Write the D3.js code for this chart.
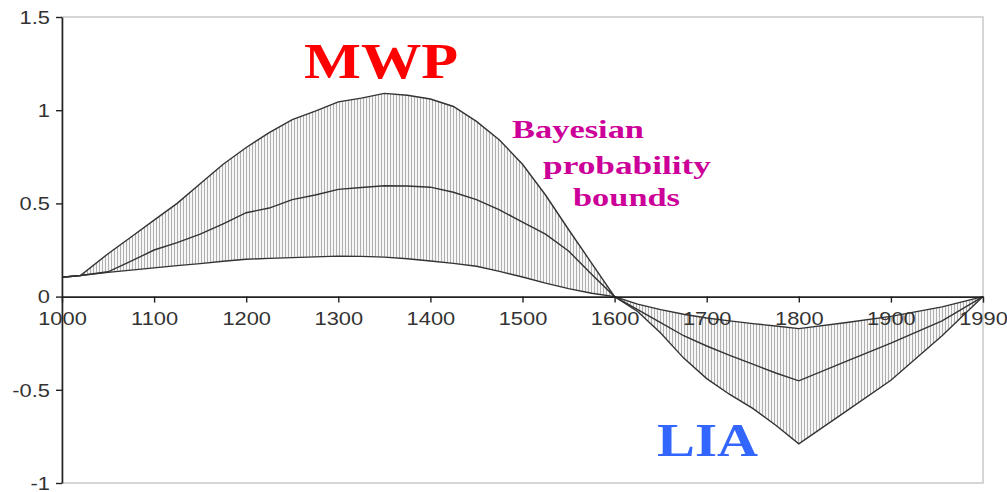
<!DOCTYPE html>
<html>
<head>
<meta charset="utf-8">
<script src="https://cdn.jsdelivr.net/npm/d3@7"></script>
<style>
  html, body { margin: 0; padding: 0; background: #fff; }
  svg { display: block; }
</style>
</head>
<body>
<svg id="chart" width="1007" height="492"></svg>
<script>
// ---- data ----
const years = [1000, 1020, 1050, 1075, 1100, 1125, 1150, 1175, 1200, 1225, 1250, 1275, 1300,
               1325, 1350, 1375, 1400, 1425, 1450, 1475, 1500, 1525, 1550, 1575, 1600,
               1625, 1650, 1675, 1700, 1725, 1750, 1775, 1800, 1850, 1900, 1950, 1990];
const upperBound = [0.104, 0.113, 0.23, 0.32, 0.41, 0.50, 0.605, 0.71, 0.80, 0.88, 0.95, 0.995, 1.045,
                    1.065, 1.09, 1.08, 1.06, 1.02, 0.94, 0.84, 0.71, 0.545, 0.36, 0.18, 0,
                    -0.04, -0.07, -0.095, -0.115, -0.13, -0.145, -0.158, -0.172, -0.14, -0.106, -0.055, 0];
const median = [0.104, 0.113, 0.133, 0.19, 0.25, 0.29, 0.335, 0.39, 0.45, 0.475, 0.52, 0.545, 0.575,
                0.585, 0.595, 0.593, 0.587, 0.56, 0.52, 0.465, 0.40, 0.335, 0.245, 0.12, 0,
                -0.07, -0.14, -0.21, -0.265, -0.315, -0.362, -0.41, -0.452, -0.35, -0.25, -0.13, 0];
const lowerBound = [0.104, 0.113, 0.13, 0.142, 0.154, 0.166, 0.177, 0.19, 0.2, 0.205, 0.209, 0.213, 0.217,
                    0.216, 0.212, 0.203, 0.191, 0.178, 0.163, 0.135, 0.105, 0.072, 0.043, 0.018, 0,
                    -0.08, -0.195, -0.33, -0.44, -0.525, -0.60, -0.69, -0.79, -0.62, -0.449, -0.21, 0];
const xTicks = [1000, 1100, 1200, 1300, 1400, 1500, 1600, 1700, 1800, 1900, 1990];
const yTicks = [-1, -0.5, 0, 0.5, 1, 1.5];
const annotations = [
  { text: "MWP", color: "#ff0000" },
  { text: "Bayesian", color: "#cc0099" },
  { text: "probability", color: "#cc0099" },
  { text: "bounds", color: "#cc0099" },
  { text: "LIA", color: "#3366ff" }
];

// ---- layout ----
const svg = d3.select("#chart");
const mLeft = 62, mRight = 983, mTop = 17, mBottom = 483;

// categorical-style axis: 1900 -> 1990 occupies one full step
const x = d3.scaleLinear().domain([1000, 1900, 1990]).range([mLeft, mLeft + 9 * (mRight - mLeft) / 10, mRight]);
const y = d3.scaleLinear().domain([-1, 1.5]).range([mBottom, mTop]);

const rows = years.map((yr, i) => ({ yr, hi: upperBound[i], mid: median[i], lo: lowerBound[i] }));

// hatch pattern (vertical high-low lines)
const defs = svg.append("defs");
const pat = defs.append("pattern").attr("id", "hatch").attr("patternUnits", "userSpaceOnUse")
  .attr("width", 3).attr("height", 10);
pat.append("rect").attr("width", 3).attr("height", 10).attr("fill", "#f6f6f6");
pat.append("line").attr("x1", 0.5).attr("x2", 0.5).attr("y1", 0).attr("y2", 10)
  .attr("stroke", "#b0b0b0").attr("stroke-width", 1);

// plot frame (light)
svg.append("rect").attr("x", mLeft).attr("y", mTop).attr("width", mRight - mLeft).attr("height", mBottom - mTop)
  .attr("fill", "none").attr("stroke", "#c8c8c8").attr("stroke-width", 1.5);

// band
svg.append("path").datum(rows)
  .attr("d", d3.area().x(d => x(d.yr)).y0(d => y(d.lo)).y1(d => y(d.hi)))
  .attr("fill", "url(#hatch)");

// lines
const line = key => d3.line().x(d => x(d.yr)).y(d => y(d[key]));
["hi", "mid", "lo"].forEach(k => {
  svg.append("path").datum(rows).attr("d", line(k))
    .attr("fill", "none").attr("stroke", "#333").attr("stroke-width", 1.4);
});

const fmt = d => String(d);

// y axis
const yAxis = svg.append("g").attr("transform", `translate(${mLeft},0)`)
  .call(d3.axisLeft(y).tickValues(yTicks).tickFormat(fmt).tickSize(6).tickSizeOuter(0));
yAxis.select(".domain").attr("stroke", "#222").attr("stroke-width", 1.6);
yAxis.selectAll(".tick line").attr("stroke", "#222").attr("stroke-width", 1.4);
yAxis.selectAll(".tick text")
  .attr("x", 0).attr("dy", "0.36em")
  .attr("transform", "translate(-12,0) scale(1.25,1)")
  .attr("font-family", "Liberation Sans, Arial, sans-serif").attr("font-size", 17.5).attr("fill", "#333");

// x axis at zero
const xAxis = svg.append("g").attr("transform", `translate(0,${y(0)})`)
  .call(d3.axisBottom(x).tickValues(xTicks).tickFormat(fmt).tickSize(6).tickSizeOuter(0));
xAxis.select(".domain").attr("stroke", "#222").attr("stroke-width", 1.6);
xAxis.selectAll(".tick line").attr("stroke", "#222").attr("stroke-width", 1.4);
xAxis.selectAll(".tick text")
  .attr("y", 28).attr("dy", 0)
  .attr("transform", "scale(1.25,1)")
  .attr("font-family", "Liberation Sans, Arial, sans-serif").attr("font-size", 17.5).attr("fill", "#333");

// annotations
const annPos = [
  { x: 304, y: 78, size: 50, len: 154 },
  { x: 512, y: 138, size: 26, len: 132 },
  { x: 543, y: 174, size: 26, len: 168 },
  { x: 573, y: 206, size: 26, len: 107 },
  { x: 657, y: 456, size: 47, len: 101 }
];
annotations.forEach((a, i) => {
  const p = annPos[i];
  svg.append("text").attr("x", p.x).attr("y", p.y)
    .attr("font-family", "Liberation Serif, Times New Roman, serif")
    .attr("font-weight", "bold").attr("font-size", p.size)
    .attr("textLength", p.len).attr("lengthAdjust", "spacingAndGlyphs")
    .attr("fill", a.color).text(a.text);
});
</script>
</body>
</html>
